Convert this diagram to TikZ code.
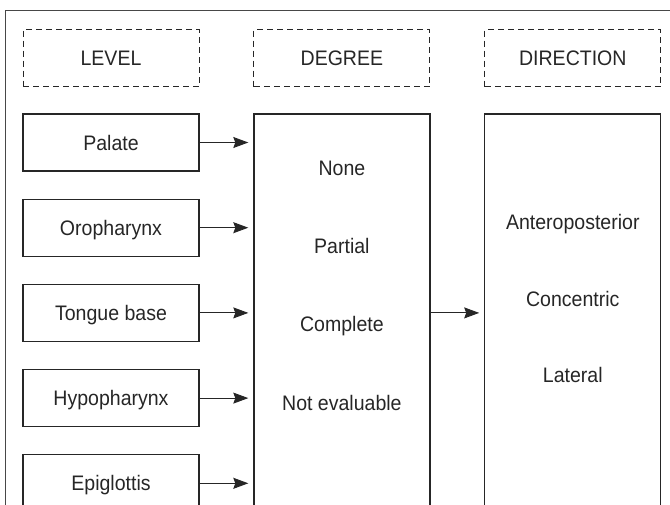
\documentclass[tikz,border=0pt]{standalone}
\usepackage{fontspec}
\setmainfont[FakeStretch=0.93]{Liberation Sans}
\usetikzlibrary{positioning,arrows.meta}
\definecolor{ink}{HTML}{262626}

\tikzset{
  site/.style={draw=ink, line width=1.2pt, minimum width=176pt, minimum height=57pt, inner sep=0pt, text height=15pt, text depth=0pt},
  head/.style={site, dash pattern=on 6pt off 4pt, line width=0.9pt},
  column/.style={draw=ink, line width=1.2pt, minimum width=176pt, minimum height=460pt, anchor=north},
  item/.style={inner sep=0pt, text height=15pt, text depth=0pt},
  link/.style={-{Stealth[length=15pt,width=11pt,inset=2pt]}, draw=ink, line width=0.9pt, shorten >=5pt}
}

\begin{document}
\begin{tikzpicture}[x=1pt, y=-1pt, font=\fontsize{21}{25}\selectfont, text=ink]
	\useasboundingbox (0,0) rectangle (670,504);
	\clip (0,0) rectangle (670,504);
	\draw[ink!85, line width=1pt] (5,10) rectangle (700,540);

	\node[head] (levelhead) at (111,58) {LEVEL};
	\node[head, right=54pt of levelhead] (degreehead) {DEGREE};
	\node[head, right=54pt of degreehead] (directionhead) {DIRECTION};

	\node[site] (palate) at (111,142.5) {Palate};
	\node[site, below=27pt of palate] (oropharynx) {Oropharynx};
	\node[site, below=27pt of oropharynx] (tonguebase) {Tongue base};
	\node[site, below=27pt of tonguebase] (hypopharynx) {Hypopharynx};
	\node[site, below=27pt of hypopharynx] (epiglottis) {Epiglottis};

	\node[column] (degree) at (degreehead |- palate.north) {};
	\node[column] (direction) at (directionhead |- palate.north) {};

	\node[item, below=46.5pt of degree.north] (none) {None};
	\node[item, below=63pt of none] (partial) {Partial};
	\node[item, below=63pt of partial] (complete) {Complete};
	\node[item, below=63pt of complete] (notevaluable) {Not evaluable};

	\node[item, below=100.5pt of direction.north] (anteroposterior) {Anteroposterior};
	\node[item, below=61.5pt of anteroposterior] (concentric) {Concentric};
	\node[item, below=61.5pt of concentric] (lateral) {Lateral};

	\foreach \s in {palate,oropharynx,tonguebase,hypopharynx,epiglottis}
		\draw[link] (\s) -- (\s -| degree.west);
	\draw[link] (tonguebase -| degree.east) -- (tonguebase -| direction.west);
\end{tikzpicture}
\end{document}
